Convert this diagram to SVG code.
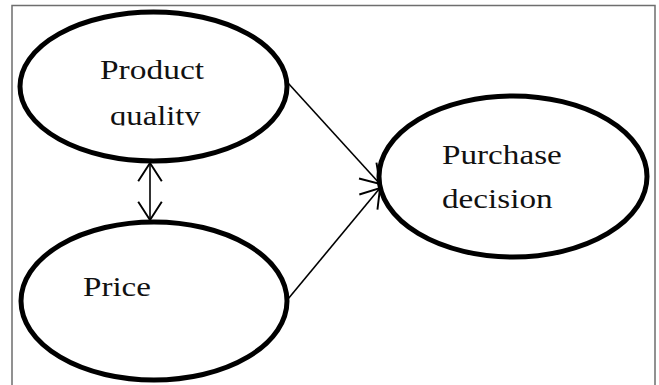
<svg xmlns="http://www.w3.org/2000/svg" width="659" height="385" viewBox="0 0 659 385">
  <style>
    .node { fill: #ffffff; stroke: #000000; stroke-width: 5; }
    .label { font-family: "Liberation Serif", "Times New Roman", serif; font-size: 27px; fill: #111111; }
    .conn { stroke: #000000; stroke-width: 1.6; fill: none; }
  </style>
  <defs>
    <marker id="open" markerUnits="userSpaceOnUse" markerWidth="30" markerHeight="30" viewBox="-22 -14 26 28" refX="0" refY="0" orient="auto-start-reverse">
      <path d="M -17 -11 L 0 0 L -17 11" fill="none" stroke="#000" stroke-width="1.8"/>
    </marker>
    <clipPath id="clipq">
      <rect x="0" y="0" width="659" height="125.5"/>
    </clipPath>
  </defs>
  <rect x="0" y="0" width="659" height="385" fill="#ffffff"/>
  <path d="M 12 385 L 12 5.5 L 655 5.5 L 655 385" fill="none" stroke="#6e6e6e" stroke-width="1.5"/>

  <g id="connectors">
    <line class="conn" x1="150" y1="163" x2="150" y2="220" marker-start="url(#open)" marker-end="url(#open)"/>
    <line class="conn" x1="288" y1="83" x2="380" y2="184" marker-end="url(#open)"/>
    <line class="conn" x1="288" y1="299" x2="380" y2="188" marker-end="url(#open)"/>
  </g>

  <g id="product-quality">
    <ellipse class="node" cx="153.5" cy="86.5" rx="133.5" ry="74.5"/>
    <text class="label" transform="translate(100 79.3) scale(1.24 1)">Product</text>
    <g clip-path="url(#clipq)">
      <text class="label" transform="translate(110 124.8) scale(1.21 1)">quality</text>
    </g>
  </g>

  <g id="price">
    <ellipse class="node" cx="154" cy="301" rx="133" ry="79"/>
    <text class="label" transform="translate(83 296) scale(1.225 1)">Price</text>
  </g>

  <g id="purchase-decision">
    <ellipse class="node" cx="513" cy="176.5" rx="134" ry="80.5"/>
    <text class="label" transform="translate(442 164) scale(1.23 1)">Purchase</text>
    <text class="label" transform="translate(442 208) scale(1.23 1)">decision</text>
  </g>
</svg>
